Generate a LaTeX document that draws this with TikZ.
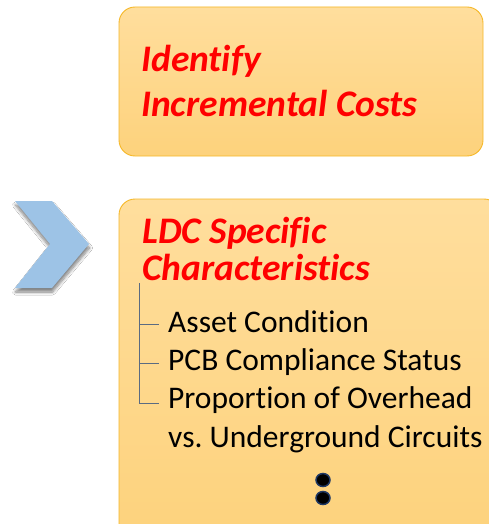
\documentclass[tikz,border=0pt]{standalone}
\usepackage{fontspec}
\setmainfont{Carlito}[Ligatures={NoCommon}]
\usetikzlibrary{shadows.blur,shapes.geometric}
\definecolor{boxtop}{HTML}{FFDE9D}
\definecolor{boxbot}{HTML}{FDD27C}
\definecolor{boxline}{HTML}{F6B828}
\definecolor{chev}{HTML}{9DC3E6}
\definecolor{treeline}{HTML}{5A6B82}
\definecolor{dotline}{HTML}{1F3864}
\tikzset{
  stepbox/.style={rounded corners=16pt, draw=boxline, line width=0.9pt, top color=boxtop, bottom color=boxbot},
  headtxt/.style={anchor=base west, inner sep=0pt, text=red, font=\fontsize{37.5}{45}\selectfont\bfseries\itshape},
  itemtxt/.style={anchor=base west, inner sep=0pt, text=black, font=\fontsize{31.5}{38}\selectfont},
  treeconn/.style={draw=treeline, line width=1pt},
  dotnode/.style={ellipse, fill=black, draw=dotline, line width=1.5pt, minimum width=14pt, minimum height=13pt, inner sep=0pt}
}
\frenchspacing
\begin{document}
\begin{tikzpicture}[x=1pt,y=-1pt]
\useasboundingbox (0,0) rectangle (489,524);
\clip (0,0) rectangle (489,524);
\fill[white] (0,0) rectangle (489,524);
% top box
\path[stepbox] (119,7) rectangle (483,156);
\node[headtxt] (id1) at (141,72) {Identify};
\node[headtxt] (id2) at (141,117) {Incremental Costs};
% chevron
\path[fill=chev, blur shadow={shadow xshift=0.5pt, shadow yshift=-4pt, shadow blur steps=8, shadow blur radius=3pt, shadow opacity=50}]
  (15,201) -- (52,201) -- (89,244) -- (52,288) -- (15,288) -- (50,244) -- cycle;
% bottom box
\path[stepbox] (119,199) rectangle (500,545);
\node[headtxt] (h1) at (142,243) {LDC Specific};
\node[headtxt] (h2) at (142,280) {Characteristics};
\node[itemtxt] (a) at (168,332) {Asset Condition};
\node[itemtxt] (b) at (168,370) {PCB Compliance Status};
\node[itemtxt] (c) at (168,408) {Proportion of Overhead};
\node[itemtxt] (d) at (168,447) {vs. Underground Circuits};
% tree
\coordinate (t0) at (139,283);
\coordinate (t1) at (139,324);
\coordinate (t2) at (139,363);
\coordinate (t3) at (139,403);
\coordinate (e1) at (159,324);
\coordinate (e2) at (159,363);
\coordinate (e3) at (159,403);
\draw[treeconn] (t0) -- (t3) -- (e3);
\draw[treeconn] (t1) -- (e1);
\draw[treeconn] (t2) -- (e2);
% dots
\node[dotnode] (d1) at (323,480) {};
\node[dotnode] (d2) at (323,498) {};
\end{tikzpicture}
\end{document}
